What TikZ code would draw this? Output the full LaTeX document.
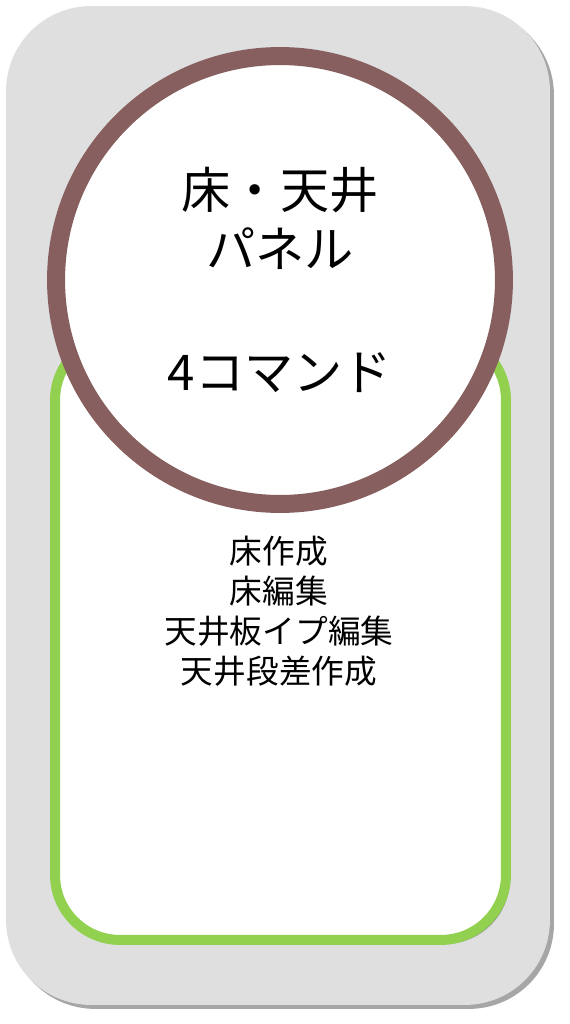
\documentclass[tikz,border=0pt]{standalone}
\usepackage{fontspec}
\newfontfamily\jpfont{Noto Sans CJK JP}
\usetikzlibrary{shadows}
\definecolor{panelgray}{RGB}{223,223,223}
\definecolor{ringbrown}{RGB}{135,95,94}
\definecolor{listgreen}{RGB}{146,208,80}
\begin{document}
\begin{tikzpicture}[x=0.02cm, y=-0.02cm,
    softshadow/.style={drop shadow={shadow xshift=0.08cm, shadow yshift=-0.08cm, opacity=0.35, fill=black}}]

    \useasboundingbox (0, 0) rectangle (570, 1024);

    \node (panel) at (278, 505.5) [rectangle, rounded corners=1.7cm, fill=panelgray,
        minimum width=10.88cm, minimum height=19.98cm, softshadow] {};
    \node (list) at (280.5, 637.5) [rectangle, rounded corners=1.3cm, fill=white,
        draw=listgreen, line width=0.2cm, minimum width=9.02cm, minimum height=12.1cm, softshadow] {};
    \node (ring) at (280, 280) [circle, fill=white, draw=ringbrown, line width=0.36cm,
        minimum size=8.96cm, inner sep=0pt, softshadow, align=center,
        font=\jpfont\fontsize{28}{34}\selectfont] {床・天井\\パネル\\[36pt]4コマンド};
    \node (cmds) at (279, 611) [align=center, font=\jpfont\fontsize{18.6}{22.8}\selectfont]
        {床作成\\床編集\\天井板イプ編集\\天井段差作成};

\end{tikzpicture}
\end{document}
